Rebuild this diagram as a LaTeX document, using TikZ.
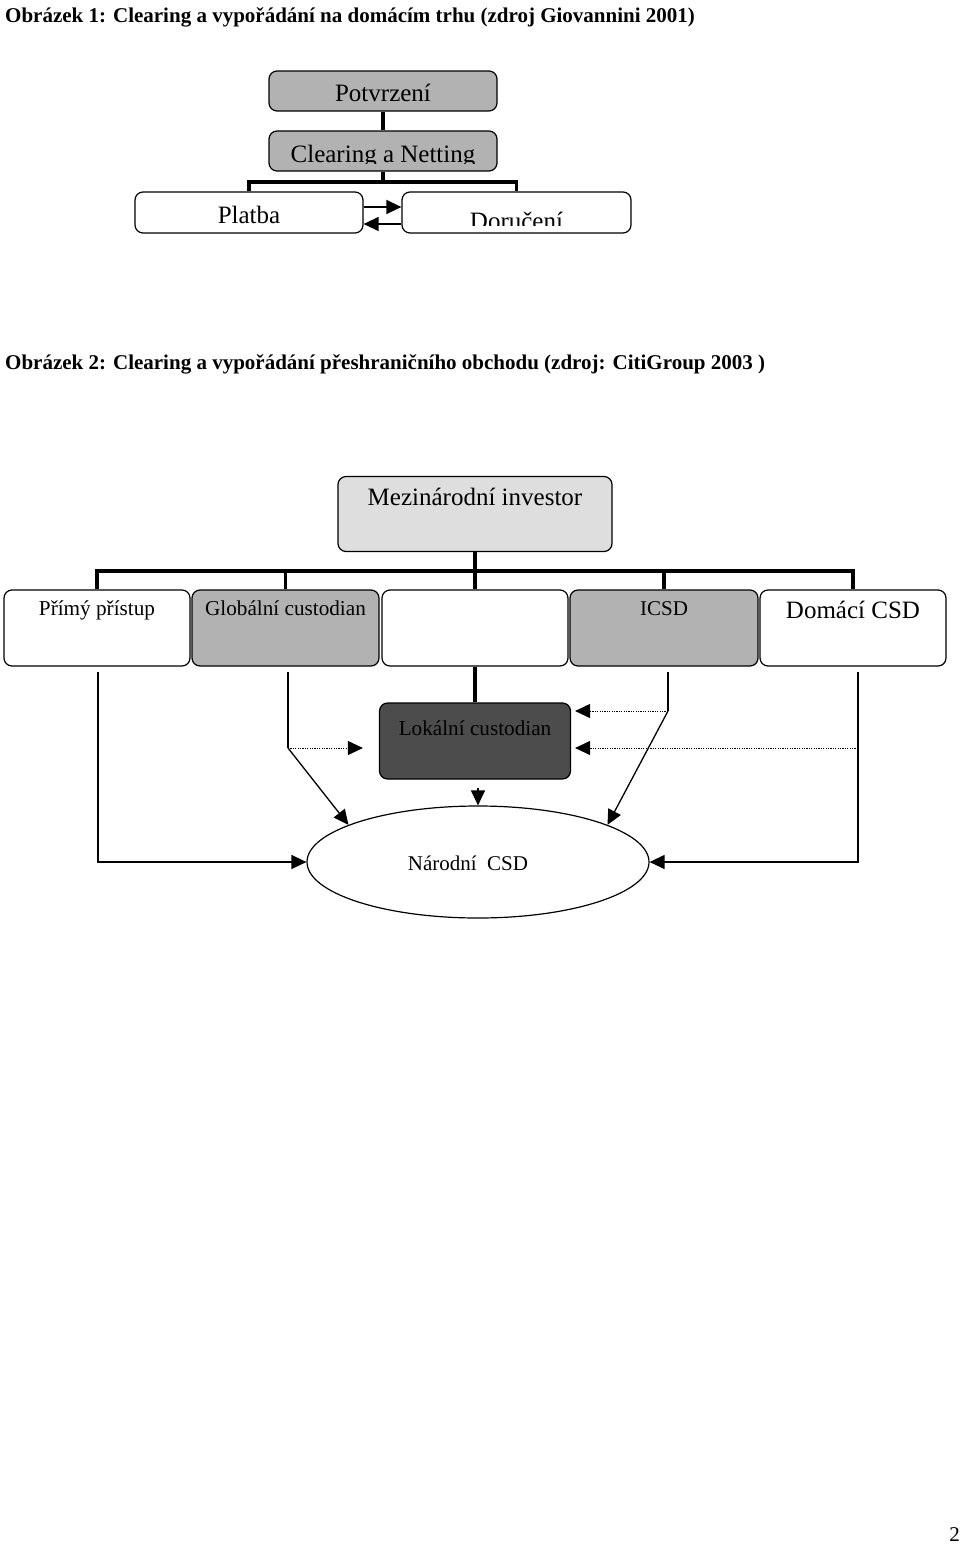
\documentclass[tikz,border=0pt]{standalone}
\usepackage{fontspec}
\setmainfont{Liberation Serif}
\usetikzlibrary{arrows.meta,shapes.geometric}
\definecolor{lightbox}{gray}{0.87}
\definecolor{midbox}{gray}{0.70}
\definecolor{darkbox}{gray}{0.30}
\newcommand{\fsz}[1]{\fontsize{#1}{#1}\selectfont}
\tikzset{
  box/.style={draw, line width=1.2pt, rounded corners=8pt, inner sep=0pt},
  tree/.style={line width=3.5pt},
  link/.style={line width=1.3pt, -{Triangle[length=15pt,width=14pt]}},
  dotlink/.style={link, line width=1pt, dash pattern=on 1.2pt off 1.2pt},
  lbl/.style={anchor=base, inner sep=0pt}
}

\begin{document}
\begin{tikzpicture}[x=1pt,y=-1pt]
	\useasboundingbox (0,0) rectangle (960,1547);
	% titles
	\node[anchor=base west, inner sep=0pt, font=\bfseries\fsz{21}] (title1) at (5,22) {Obrázek 1: Clearing a vypořádání na domácím trhu (zdroj Giovannini 2001)};
	\node[anchor=base west, inner sep=0pt, font=\bfseries\fsz{21}] (title2) at (5,369) {Obrázek 2: Clearing a vypořádání přeshraničního obchodu (zdroj: CitiGroup 2003 )};
	\node[anchor=base east, inner sep=0pt, font=\fsz{21}] (page) at (960,1541) {2};
	% picture 1
	\node[box, fill=midbox, minimum width=228, minimum height=40] (potv) at (383,91) {};
	\node[box, fill=midbox, minimum width=228, minimum height=40] (clear) at (383,151) {};
	\node[box, fill=white, minimum width=228, minimum height=41] (platba) at (249,212.5) {};
	\node[box, fill=white, minimum width=229, minimum height=41] (doruc) at (516.5,212.5) {};
	\node[lbl, font=\fsz{25}] (potvtxt) at (383,101) {Potvrzení};
	\begin{scope}
		\clip (270,132) rectangle (496,163);
		\node[lbl, font=\fsz{25}] (cleartxt) at (383,162) {Clearing a Netting};
	\end{scope}
	\node[lbl, font=\fsz{25}] (platbatxt) at (249,223) {Platba};
	\begin{scope}
		\clip (404,193) rectangle (630,225);
		\node[lbl, font=\fsz{25}] (doructxt) at (516.5,229) {Doručení};
	\end{scope}
	\coordinate (bar1) at (383,182);
	\draw[tree] (potv.south) -- (clear.north);
	\draw[tree] (clear.south) -- (bar1);
	\draw[tree] (bar1) -| (platba.north);
	\draw[tree] (bar1) -| (doruc.north);
	\draw[link] ([yshift=5.5]platba.east) -- ([yshift=5.5]doruc.west);
	\draw[link] ([yshift=-11.5]doruc.west) -- ([yshift=-11.5]platba.east);
	% picture 2
	\node[box, fill=lightbox, minimum width=274, minimum height=75] (inv) at (475,514) {};
	\node[lbl, font=\fsz{25}] (invtxt) at (475,505) {Mezinárodní investor};
	\node[box, fill=white, minimum width=186, minimum height=76] (prim) at (97,628) {};%0
	\node[box, fill=midbox, minimum width=187, minimum height=76] (glob) at (285.5,628) {};%1
	\node[box, fill=white, minimum width=186, minimum height=76] (mid) at (475,628) {};%2
	\node[box, fill=midbox, minimum width=188, minimum height=76] (icsd) at (664,628) {};%3
	\node[box, fill=white, minimum width=186, minimum height=76] (dom) at (853,628) {};%4
	\node[lbl, font=\fsz{21.2}] (primtxt) at (97,615) {Přímý přístup};
	\node[lbl, font=\fsz{21.2}] (globtxt) at (285.5,615) {Globální custodian};
	\node[lbl, font=\fsz{21}] (icsdtxt) at (664,615) {ICSD};
	\node[lbl, font=\fsz{25}] (domtxt) at (853,618) {Domácí CSD};
	\node[box, fill=darkbox, minimum width=191, minimum height=76] (lok) at (475,741) {};
	\node[lbl, font=\fsz{21.2}] (loktxt) at (475,735) {Lokální custodian};
	\node[draw, ellipse, line width=1.2pt, minimum width=342, minimum height=112, inner sep=0pt] (csd) at (478,862) {};
	\node[lbl, font=\fsz{21}] (csdtxt) at (468,870) {Národní \ CSD};
	\coordinate (bar2) at (475,571);
	\draw[tree] (inv.south) -- (bar2);
	\draw[tree] (bar2) -| (prim.north);
	\draw[tree] (bar2) -| (glob.north);
	\draw[tree] (bar2) -- (mid.north);
	\draw[tree] (bar2) -| (icsd.north);
	\draw[tree] (bar2) -| (dom.north);
	\draw[tree] (mid.south) -- (lok.north);
	% routes to the national CSD
	\coordinate (ptop) at (98,672);
	\coordinate (gtop) at (288,672);
	\coordinate (gknee) at (288,748);
	\coordinate (itop) at (668,672);
	\coordinate (iknee) at (668,711);
	\coordinate (dtop) at (858,672);
	\coordinate (dknee) at (858,748);
	\draw[link] (ptop) |- (csd.west);
	\draw[link] (dtop) |- (csd.east);
	\draw[line width=1.3pt] (gtop) -- (gknee);
	\draw[link] (gknee) -- (csd.164);
	\draw[dotlink, shorten >=16pt] (gknee) -- (gknee -| lok.west);
	\draw[line width=1.3pt] (itop) -- (iknee);
	\draw[link] (iknee) -- (csd.16);
	\draw[dotlink, shorten >=4pt] (iknee) -- (iknee -| lok.east);
	\draw[dotlink, shorten >=4pt] (dknee) -- (dknee -| lok.east);
	\draw[link, shorten <=8pt] (lok.south -| csd.north) -- (csd.north);
\end{tikzpicture}
\end{document}
